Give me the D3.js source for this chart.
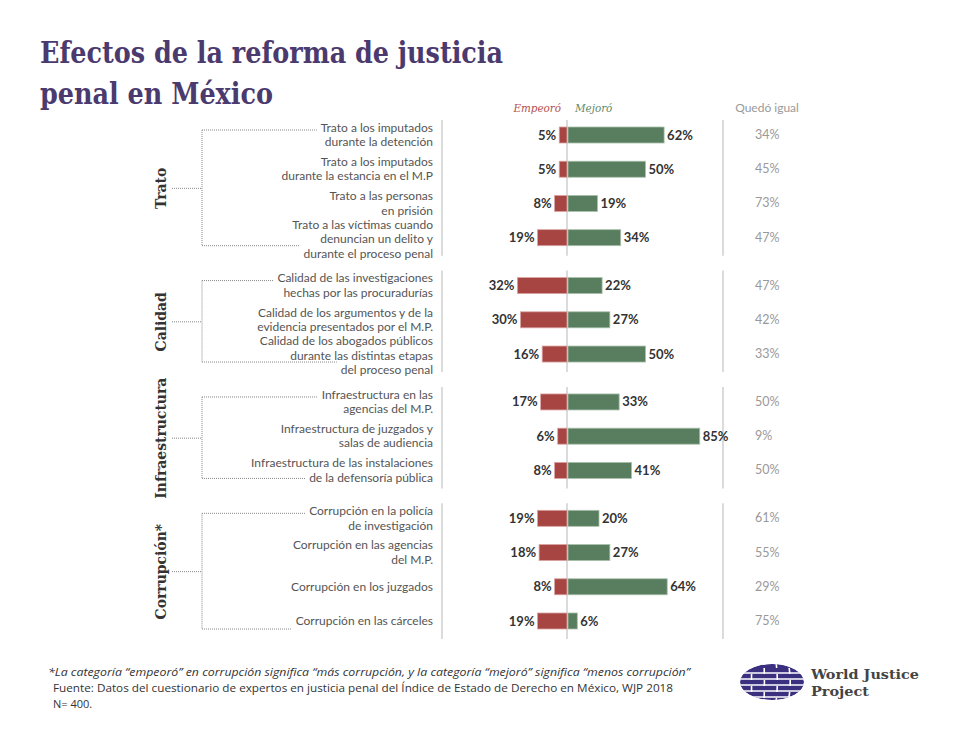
<!DOCTYPE html>
<html>
<head>
<meta charset="utf-8">
<script src="https://cdn.jsdelivr.net/npm/d3@7"></script>
<style>
  body { margin: 0; background: #fff; }
  svg { font-family: Lato, "Open Sans", sans-serif; }
</style>
</head>
<body>
<div id="chart"></div>
<script>
// data

var groups = ["Trato", "Calidad", "Infraestructura", "Corrupción*"];

var items = [
  "Trato a los imputados|durante la detención",
  "Trato a los imputados|durante la estancia en el M.P",
  "Trato a las personas|en prisión",
  "Trato a las víctimas cuando|denuncian un delito y|durante el proceso penal",
  "Calidad de las investigaciones|hechas por las procuradurías",
  "Calidad de los argumentos y de la|evidencia presentados por el M.P.",
  "Calidad de los abogados públicos|durante las distintas etapas|del proceso penal",
  "Infraestructura en las|agencias del M.P.",
  "Infraestructura de juzgados y|salas de audiencia",
  "Infraestructura de las instalaciones|de la defensoría pública",
  "Corrupción en la policía|de investigación",
  "Corrupción en las agencias|del M.P.",
  "Corrupción en los juzgados",
  "Corrupción en las cárceles"
];
var itemGroup = [0, 0, 0, 0, 1, 1, 1, 2, 2, 2, 3, 3, 3, 3];

var empeoro = [5, 5, 8, 19, 32, 30, 16, 17, 6, 8, 19, 18, 8, 19];
var mejoro  = [62, 50, 19, 34, 22, 27, 50, 33, 85, 41, 20, 27, 64, 6];
var igual   = [34, 45, 73, 47, 47, 42, 33, 50, 9, 50, 61, 55, 29, 75];

var width = 960, height = 741;
var red = "#a64542", green = "#587d5f", purple = "#4b3a6e";
var serif = "'DejaVu Serif Condensed', 'DejaVu Serif', serif";

var svg = d3.select("#chart").append("svg")
  .attr("width", width).attr("height", height);

// TITLE
var title = svg.append("g").attr("fill", purple)
  .style("font-family", serif).style("font-weight", "bold").style("font-size", "30px");
title.append("text").attr("x", 40).attr("y", 63).text("Efectos de la reforma de justicia")
  .attr("textLength", 463).attr("lengthAdjust", "spacingAndGlyphs");
title.append("text").attr("x", 40).attr("y", 104).text("penal en México")
  .attr("textLength", 233).attr("lengthAdjust", "spacingAndGlyphs");

// SCALES
var rows = items.map(function(d, i) {
  return { label: d, g: itemGroup[i], worse: empeoro[i], better: mejoro[i], same: igual[i], slot: i + itemGroup[i] * 0.4 };
});
var y = d3.scaleLinear().domain([0, 13 + 3 * 0.4]).range([135, 621]);
var x = d3.scaleLinear().domain([0, 100]).range([0, 155]);
var cx = 567, labelX = 433, sameX = 755, barH = 16;

// header
svg.append("text").attr("x", cx - 6).attr("y", 112).attr("text-anchor", "end")
  .style("font-family", serif).style("font-style", "italic").style("font-size", "11.5px")
  .attr("fill", "#b5504e").text("Empeoró");
svg.append("text").attr("x", cx + 8).attr("y", 112)
  .style("font-family", serif).style("font-style", "italic").style("font-size", "11.5px")
  .attr("fill", "#5f8a66").text("Mejoró");
svg.append("text").attr("x", 767).attr("y", 112).attr("text-anchor", "middle")
  .style("font-size", "12px").attr("fill", "#9a9a9a").text("Quedó igual");

// per-group lines and brackets
groups.forEach(function(name, gi) {
  var gr = rows.filter(function(r) { return r.g == gi; });
  var y0 = y(gr[0].slot), y1 = y(gr[gr.length - 1].slot);

  [442, cx, 723].forEach(function(lx) {
    svg.append("line").attr("x1", lx).attr("x2", lx)
      .attr("y1", y0 - 15).attr("y2", y1 + 18)
      .attr("stroke", "#cfcfcf").attr("stroke-width", 1.5);
  });

  var by0 = y0 - 5, by1 = y1 + 8, bm = (y0 + y1) / 2 + 2;
  var dots = svg.append("g").attr("stroke", "#888").attr("stroke-width", 1).attr("stroke-dasharray", "1,1").attr("fill", "none");
  dots.append("line").attr("x1", 202).attr("x2", 202).attr("y1", by0).attr("y2", by1);
  dots.append("line").attr("class", "btop").attr("x1", 202).attr("y1", by0).attr("y2", by0).datum(gr[0]);
  dots.append("line").attr("class", "bbot").attr("x1", 202).attr("y1", by1).attr("y2", by1).datum(gr[gr.length - 1]);
  dots.append("line").attr("x1", 172).attr("x2", 202).attr("y1", bm).attr("y2", bm);

  svg.append("text")
    .attr("transform", "translate(166," + bm + ") rotate(-90)")
    .attr("text-anchor", "middle")
    .style("font-family", serif).style("font-weight", "bold").style("font-size", "15.5px")
    .attr("fill", "#333").text(name);
});

// ITEM LABELS
var lineH = 14.5;
var lab = svg.selectAll(".lab").data(rows).enter().append("text")
  .attr("class", "lab")
  .attr("text-anchor", "end")
  .style("font-size", "12px").attr("fill", "#555");
lab.each(function(d) {
  var lines = d.label.split("|");
  var t = d3.select(this);
  lines.forEach(function(l, k) {
    t.append("tspan").attr("x", labelX)
      .attr("y", y(d.slot) + (k - (lines.length - 1) / 2) * lineH + 4 + (lines.length > 2 ? 1.5 : 0))
      .text(l);
  });
});

// dotted bracket arms stop just before the label text
function lineStart(d, which) {
  var node = lab.filter(function(r) { return r === d; }).node();
  var spans = node.querySelectorAll("tspan");
  var sp = which == "top" ? spans[0] : spans[spans.length - 1];
  return labelX - sp.getComputedTextLength() - 4;
}
svg.selectAll(".btop").attr("x2", function(d) { return lineStart(d, "top"); });
svg.selectAll(".bbot").attr("x2", function(d) { return lineStart(d, "bot"); });

// BARS
svg.selectAll(".worse").data(rows).enter().append("rect")
  .attr("class", "worse")
  .attr("x", function(d) { return cx - x(d.worse); })
  .attr("y", function(d) { return y(d.slot) - barH / 2; })
  .attr("width", function(d) { return x(d.worse); })
  .attr("height", barH)
  .attr("fill", red).attr("stroke", "#d9a3a2").attr("stroke-width", 0.8);

svg.selectAll(".better").data(rows).enter().append("rect")
  .attr("class", "better")
  .attr("x", cx + 1)
  .attr("y", function(d) { return y(d.slot) - barH / 2; })
  .attr("width", function(d) { return x(d.better); })
  .attr("height", barH)
  .attr("fill", green).attr("stroke", "#a9c0ab").attr("stroke-width", 0.8);

// VALUE LABELS
svg.selectAll(".wl").data(rows).enter().append("text")
  .attr("x", function(d) { return cx - x(d.worse) - 3; })
  .attr("y", function(d) { return y(d.slot) + 4.5; })
  .attr("text-anchor", "end")
  .style("font-size", "13px").style("font-weight", "bold").attr("fill", "#333")
  .text(function(d) { return d.worse + "%"; });

svg.selectAll(".bl").data(rows).enter().append("text")
  .attr("x", function(d) { return cx + 1 + x(d.better) + 3; })
  .attr("y", function(d) { return y(d.slot) + 4.5; })
  .style("font-size", "13px").style("font-weight", "bold").attr("fill", "#333")
  .text(function(d) { return d.better + "%"; });

svg.selectAll(".sl").data(rows).enter().append("text")
  .attr("x", sameX)
  .attr("y", function(d) { return y(d.slot) + 4; })
  .style("font-size", "12.5px").attr("fill", "#999")
  .text(function(d) { return d.same + "%"; });

// FOOTER
var foot = svg.append("g").style("font-family", "'Open Sans', sans-serif").style("font-size", "11px").attr("fill", "#333");
foot.append("text").attr("x", 48).attr("y", 676).style("font-style", "italic")
  .text("*La categoría “empeoró” en corrupción significa “más corrupción, y la categoría “mejoró” significa “menos corrupción”")
  .attr("textLength", 642).attr("lengthAdjust", "spacingAndGlyphs");
foot.append("text").attr("x", 53).attr("y", 692)
  .text("Fuente: Datos del cuestionario de expertos en justicia penal del Índice de Estado de Derecho en México, WJP 2018")
  .attr("textLength", 620).attr("lengthAdjust", "spacingAndGlyphs");
foot.append("text").attr("x", 53).attr("y", 708).text("N= 400.");

// LOGO
var logo = svg.append("g");
logo.append("clipPath").attr("id", "globe")
  .append("ellipse").attr("cx", 772).attr("cy", 682).attr("rx", 32).attr("ry", 18);
var gl = logo.append("g").attr("clip-path", "url(#globe)");
gl.append("ellipse").attr("cx", 772).attr("cy", 682).attr("rx", 32).attr("ry", 18).attr("fill", "#3b2f7f");
[-12, -6, 0, 6, 12].forEach(function(dy) {
  gl.append("line").attr("x1", 735).attr("x2", 810).attr("y1", 682 + dy + 3).attr("y2", 682 + dy + 3)
    .attr("stroke", "#fff").attr("stroke-width", 1.6);
});
[-20, -8, 4, 16].forEach(function(dx, k) {
  gl.append("path")
    .attr("d", "M" + (772 + dx) + ",662 Q" + (772 + dx * 1.15 + 2) + ",682 " + (772 + dx) + ",702")
    .attr("stroke", "#fff").attr("stroke-width", 1.6).attr("fill", "none")
    .attr("stroke-dasharray", "6,6").attr("stroke-dashoffset", k % 2 ? 6 : 0);
});
logo.append("text").attr("x", 811).attr("y", 679)
  .style("font-family", serif).style("font-weight", "bold").style("font-size", "13.5px")
  .attr("fill", "#444").text("World Justice").attr("textLength", 108).attr("lengthAdjust", "spacingAndGlyphs");
logo.append("text").attr("x", 811).attr("y", 696)
  .style("font-family", serif).style("font-weight", "bold").style("font-size", "13.5px")
  .attr("fill", "#444").text("Project").attr("textLength", 58).attr("lengthAdjust", "spacingAndGlyphs");
</script>
</body>
</html>
